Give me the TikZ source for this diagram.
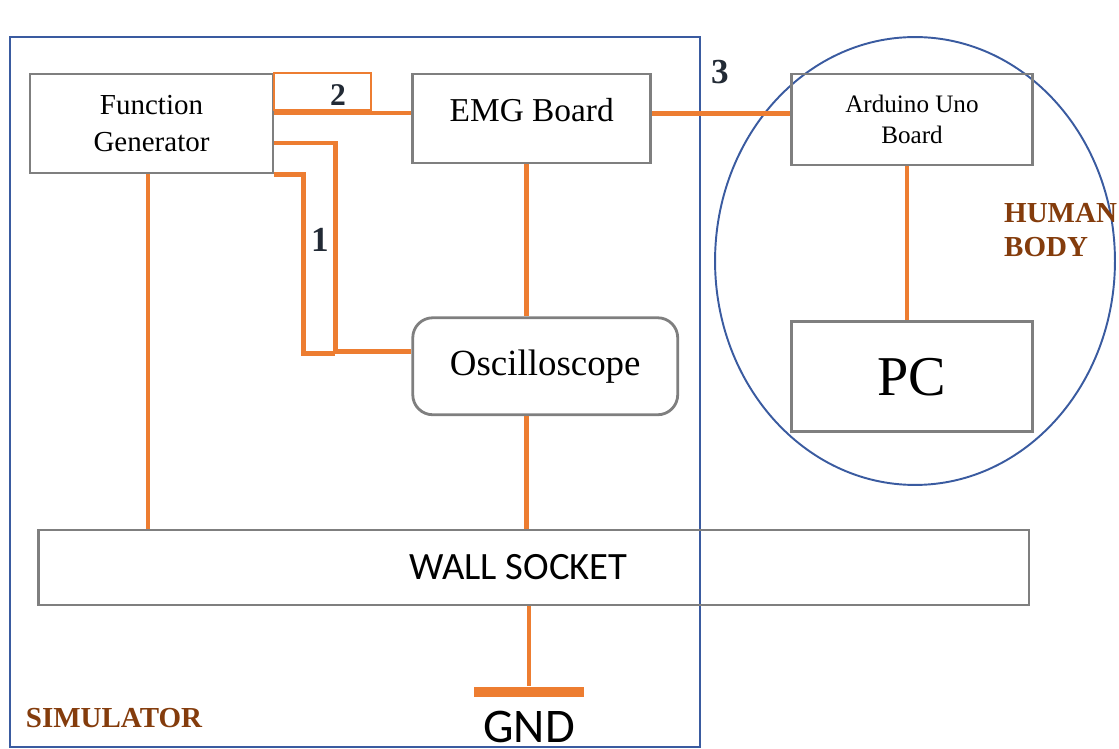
\documentclass[tikz,border=0pt]{standalone}
\usepackage{fontspec}
\setmainfont{Liberation Serif}
\newfontfamily\calibri{Carlito}
\usetikzlibrary{positioning}
\definecolor{wire}{HTML}{ED7D31}
\definecolor{boxgray}{HTML}{7F7F7F}
\definecolor{frameblue}{HTML}{3A5BA0}
\definecolor{labelbrown}{HTML}{843C0C}
\definecolor{numnavy}{HTML}{222A35}

\begin{document}
\begin{tikzpicture}[
  x=0.02cm, y=-0.02cm,
  box/.style={rectangle, draw=boxgray, line width=1.6pt, align=center, inner sep=0pt},
  wireline/.style={draw=wire, line width=2.8pt},
  thinwire/.style={draw=wire, line width=1.1pt},
  frame/.style={draw=frameblue, line width=1.1pt},
  num/.style={font=\fontsize{20}{24}\selectfont\bfseries, text=numnavy},
  tag/.style={font=\fontsize{16.5}{19.8}\selectfont\bfseries, text=labelbrown, align=left},
  node distance=2.8cm
]
\useasboundingbox (0,0) rectangle (1119,749);

\draw[frame] (10,37) rectangle (700,747);
\draw[frame] (915,261) ellipse [x radius=4cm, y radius=4.48cm];

\node (fg) [box, minimum width=4.86cm, minimum height=1.98cm, font=\fontsize{16.5}{21.5}\selectfont] at (151.5,123.5) {Function\\Generator};
\node (emg) [box, minimum width=4.76cm, minimum height=1.78cm, font=\fontsize{19}{23}\selectfont, right=2.74cm of fg.north east, anchor=north west] {\raisebox{0.34cm}{EMG Board}};
\node (ard) [box, minimum width=4.82cm, minimum height=1.82cm, font=\fontsize{14.3}{17.6}\selectfont, right=2.76cm of emg.north east, anchor=north west] {Arduino Uno\\Board};
\node (pc) [box, minimum width=4.82cm, minimum height=2.2cm, font=\fontsize{32}{36}\selectfont, below=3.08cm of ard] {PC};
\node (osc) [box, rounded corners=0.4cm, minimum width=5.3cm, minimum height=1.94cm, font=\fontsize{21}{25}\selectfont, below=3.04cm of emg.south west, anchor=north west] {Oscilloscope};
\node (wall) [box, minimum width=19.82cm, minimum height=1.5cm, font=\calibri\fontsize{22}{26}\selectfont] at (533.5,567.5) {WALL SOCKET\hspace*{0.6cm}};
\node (gndbar) [fill=wire, minimum width=2.2cm, minimum height=0.2cm, inner sep=0pt, below=1.6cm of wall.south, xshift=-0.09cm] {};
\node (gnd) [inner sep=0pt, below=0.28cm of gndbar, font=\calibri\fontsize{27.5}{30}\selectfont] {GND};

\node (sim) [tag] at (114,718) {SIMULATOR};
\node (body) [tag, anchor=west] at (998,230) {HUMAN\\BODY};
\node (n1) [num] at (320,240) {1};
\node (n2) [num, font=\fontsize{18}{22}\selectfont\bfseries] at (338,95) {2};
\node (n3) [num] at (720,72) {3};

\draw[thinwire] (fg.north east) rectangle ++(97,37);
\draw[wireline] ([yshift=0.21cm]fg.east) -- ([yshift=0.21cm]fg.east -| emg.west);
\draw[wireline] ([yshift=-0.39cm]fg.east) -- ++(61,0) |- ([yshift=0.29cm]osc.west);
\draw[wireline] (fg.south east) -- ++(29,0) -- ++(0,179) -- ++(32,0);
\draw[wireline] ([yshift=0.1cm]emg.east) -- ([yshift=0.1cm]emg.east -| ard.west);
\draw[wireline] ([xshift=-0.1cm]emg.south) -- ([xshift=-0.1cm]emg.south |- osc.north);
\draw[wireline] ([xshift=-0.1cm]emg.south |- osc.south) -- ([xshift=-0.1cm]emg.south |- wall.north);
\draw[wireline] ([xshift=-0.07cm]fg.south) -- ([xshift=-0.07cm]fg.south |- wall.north);
\draw[wireline] ([xshift=-0.1cm]ard.south) -- ([xshift=-0.1cm]ard.south |- pc.north);
\draw[wireline] (gndbar.north |- wall.south) -- (gndbar.north);
\end{tikzpicture}
\end{document}
